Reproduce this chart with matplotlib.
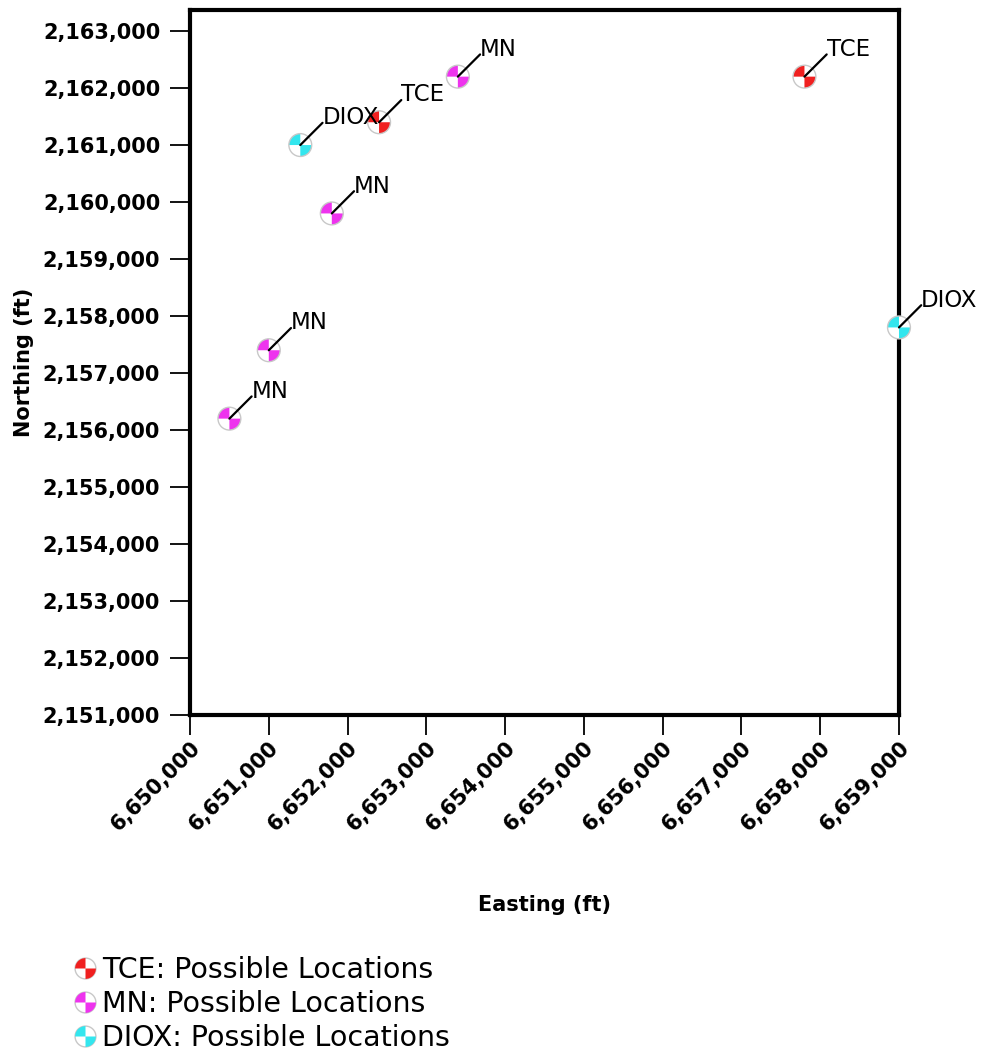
import matplotlib
matplotlib.use('Agg')
import matplotlib.pyplot as plt
from matplotlib.path import Path
from matplotlib.lines import Line2D
from matplotlib.legend_handler import HandlerTuple
from matplotlib.ticker import FuncFormatter

### -------------------------------------------------------------------------------------------------------------------
### Data
### -------------------------------------------------------------------------------------------------------------------

contaminants = ['TCE', 'MN', 'DIOX']
contaminantColors = {'TCE': '#f02020', 'MN': '#ee33ee', 'DIOX': '#33e6ee'}

siteLabels = ['DIOX', 'TCE', 'MN', 'TCE', 'MN', 'MN', 'MN', 'DIOX']
siteEasting = [6651400, 6652400, 6653400, 6657800, 6651800, 6651000, 6650500, 6659000]
siteNorthing = [2161000, 2161400, 2162200, 2162200, 2159800, 2157400, 2156200, 2157800]

xTicks = list(range(6650000, 6659001, 1000))
yTicks = list(range(2151000, 2163001, 1000))

### -------------------------------------------------------------------------------------------------------------------

# quadrant marker: top-left and bottom-right filled
quadPath = Path.make_compound_path(Path.wedge(90, 180), Path.wedge(270, 360))
markerSize = 270
outlineColor = '#c8c8c8'

fig = plt.figure(figsize=(9.84, 10.59), dpi=100)
ax = fig.add_axes([0.1931, 0.3248, 0.7205, 0.6658])

for name in contaminants:
    xs = [x for x, lab in zip(siteEasting, siteLabels) if lab == name]
    ys = [y for y, lab in zip(siteNorthing, siteLabels) if lab == name]
    ax.scatter(xs, ys, s=markerSize, marker='o', facecolor='white', edgecolor='none', zorder=5, clip_on=False)
    ax.scatter(xs, ys, s=markerSize, marker=quadPath, facecolor=contaminantColors[name], edgecolor='none',
               zorder=6, clip_on=False)
    ax.scatter(xs, ys, s=markerSize, marker='o', facecolor='none', edgecolor=outlineColor, linewidths=1.0,
               zorder=7, clip_on=False)

for x, y, lab in zip(siteEasting, siteNorthing, siteLabels):
    ax.annotate('', xy=(x, y), xytext=(16, 16), textcoords='offset points',
                arrowprops=dict(arrowstyle='-', color='black', lw=1.6, shrinkA=0, shrinkB=0),
                zorder=8, annotation_clip=False)
    ax.annotate(lab, xy=(x, y), xytext=(16, 15), textcoords='offset points', ha='left', va='baseline',
                fontsize=16.5, zorder=9, annotation_clip=False)

ax.set_xlim(6650000, 6659000)
ax.set_ylim(2151000, 2163370)
ax.set_xticks(xTicks)
ax.set_yticks(yTicks)
commaFmt = FuncFormatter(lambda v, p: '{:,.0f}'.format(v))
ax.xaxis.set_major_formatter(commaFmt)
ax.yaxis.set_major_formatter(commaFmt)

for spine in ax.spines.values():
    spine.set_linewidth(3)
ax.tick_params(axis='both', direction='out', length=14.5, width=1.3, labelsize=15)
ax.tick_params(axis='y', pad=7)
ax.tick_params(axis='x', pad=2)
for lbl in ax.get_xticklabels() + ax.get_yticklabels():
    lbl.set_fontweight('bold')
plt.setp(ax.get_xticklabels(), rotation=45, ha='right', va='top', rotation_mode='anchor')

ax.set_xlabel('Easting (ft)', fontsize=15, fontweight='bold')
ax.xaxis.set_label_coords(0.5, -0.255)
ax.set_ylabel('Northing (ft)', fontsize=15, fontweight='bold')
ax.yaxis.set_label_coords(-0.22, 0.5)

handles = []
for name in contaminants:
    base = Line2D([], [], linestyle='none', marker='o', markersize=15, markerfacecolor='white',
                  markeredgecolor=outlineColor, markeredgewidth=1.0)
    quad = Line2D([], [], linestyle='none', marker=quadPath, markersize=15,
                  markerfacecolor=contaminantColors[name], markeredgecolor='none')
    handles.append((base, quad))

fig.legend(handles, [n + ': Possible Locations' for n in contaminants], loc='upper left',
           bbox_to_anchor=(0.063, 0.111), frameon=False, fontsize=20.5, handlelength=0.65, handletextpad=0.25,
           labelspacing=0.22, borderpad=0, handler_map={tuple: HandlerTuple(ndivide=1)})

fig.savefig('out.png', dpi=100)
